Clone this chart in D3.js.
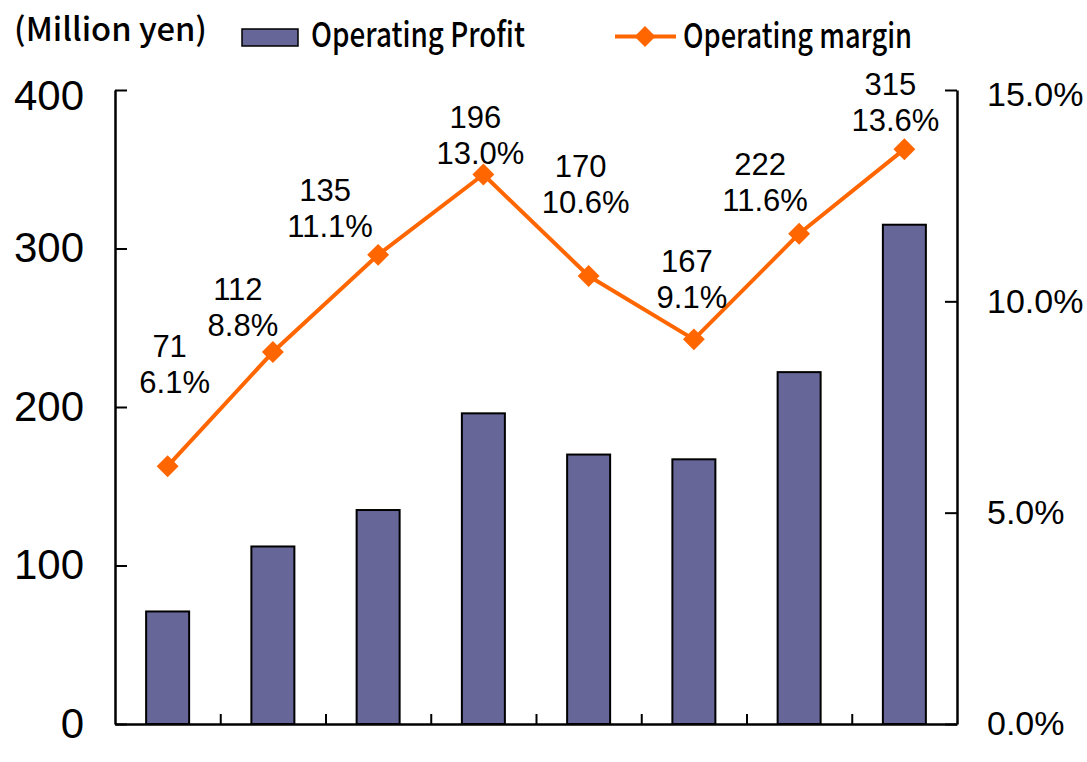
<!DOCTYPE html>
<html>
<head>
<meta charset="utf-8">
<script src="https://cdn.jsdelivr.net/npm/d3@7"></script>
<style>
  body { margin: 0; background: #fff; }
</style>
</head>
<body>
<div id="chart"></div>
<script>
// periods are not labelled on the original chart
const categories = ["P1", "P2", "P3", "P4", "P5", "P6", "P7", "P8"];
const profit = [71, 112, 135, 196, 170, 167, 222, 315];
const opMargin = [6.1, 8.8, 11.1, 13.0, 10.6, 9.1, 11.6, 13.6];
const leftTicks = [0, 100, 200, 300, 400];
const rightTicks = [0, 5, 10, 15];
const unitLabel = "(Million yen)";
const seriesNames = ["Operating Profit", "Operating margin"];

// where each two-line label sits relative to its marker (layout only)
const labelShift = [[7, -73], [-30, -16], [-48, -18], [-3, -11], [-3, -63], [-2, -31], [-34, -23], [-9, -18]];

const W = 1087, H = 762;
const margin = { top: 90, right: 130, bottom: 38, left: 115 };
const width = W - margin.left - margin.right;
const height = H - margin.top - margin.bottom;

const svg = d3.select("#chart").append("svg")
  .attr("width", W)
  .attr("height", H)
  .style("background", "#fff");

const g = svg.append("g")
  .attr("transform", `translate(${margin.left},${margin.top})`);

const x = d3.scaleBand().domain(categories).range([0, width]).padding(0);
const y = d3.scaleLinear().domain([0, 400]).range([height, 0]);
const y2 = d3.scaleLinear().domain([0, 15]).range([height, 0]);

const barW = 43;
const orange = "#ff6600";
const barFill = "#666699";

// bars
g.selectAll("rect.bar")
  .data(profit)
  .join("rect")
  .attr("class", "bar")
  .attr("x", (d, i) => x(categories[i]) + (x.bandwidth() - barW) / 2)
  .attr("y", d => y(d))
  .attr("width", barW)
  .attr("height", d => height - y(d))
  .attr("fill", barFill)
  .attr("stroke", "#000")
  .attr("stroke-width", 2);

// axes
const leftAxis = g.append("g")
  .call(d3.axisLeft(y).tickValues(leftTicks).tickSize(-12).tickSizeOuter(0).tickPadding(31));
leftAxis.selectAll("text")
  .style("font-family", "'Liberation Sans', Arial, sans-serif")
  .style("font-size", "42px")
  .attr("fill", "#000");
leftAxis.selectAll("text").filter(d => d === leftTicks[leftTicks.length - 1]).attr("y", 6);

const rightAxis = g.append("g")
  .attr("transform", `translate(${width},0)`)
  .call(d3.axisRight(y2).tickValues(rightTicks).tickSize(-12).tickSizeOuter(0).tickPadding(30)
    .tickFormat(d => d.toFixed(1) + "%"));
rightAxis.selectAll("text")
  .style("font-family", "'Liberation Sans', Arial, sans-serif")
  .style("font-size", "34px")
  .attr("fill", "#000");
rightAxis.selectAll("text").filter(d => d === rightTicks[rightTicks.length - 1]).attr("y", 5);

const xPos = d3.scaleLinear().domain([0, categories.length]).range([0, width]);
const bottomAxis = g.append("g")
  .attr("transform", `translate(0,${height})`)
  .call(d3.axisBottom(xPos).tickValues(d3.range(1, categories.length)).tickSize(-10).tickSizeOuter(0).tickFormat(""));

[leftAxis, rightAxis, bottomAxis].forEach(a => {
  a.select(".domain").attr("stroke", "#000").attr("stroke-width", 2.5);
  a.selectAll(".tick line").attr("stroke", "#000").attr("stroke-width", 2);
});

// margin line
const cx = i => x(categories[i]) + x.bandwidth() / 2;
const line = d3.line()
  .x((d, i) => cx(i))
  .y(d => y2(d));

g.append("path")
  .datum(opMargin)
  .attr("d", line)
  .attr("fill", "none")
  .attr("stroke", orange)
  .attr("stroke-width", 4)
  .attr("stroke-linejoin", "round");

const diamond = d3.symbol(d3.symbolSquare, 240);
g.selectAll("path.mark")
  .data(opMargin)
  .join("path")
  .attr("class", "mark")
  .attr("d", diamond)
  .attr("transform", (d, i) => `translate(${cx(i)},${y2(d)}) rotate(45)`)
  .attr("fill", orange);

// data labels
const labels = g.selectAll("text.lbl")
  .data(opMargin)
  .join("text")
  .attr("class", "lbl")
  .attr("text-anchor", "middle")
  .style("font-family", "'Liberation Sans', Arial, sans-serif")
  .style("font-size", "31px")
  .attr("fill", "#000");

labels.append("tspan")
  .attr("x", (d, i) => cx(i) + labelShift[i][0] - 5)
  .attr("y", (d, i) => y2(d) + labelShift[i][1] - 36)
  .text((d, i) => profit[i]);
labels.append("tspan")
  .attr("x", (d, i) => cx(i) + labelShift[i][0])
  .attr("y", (d, i) => y2(d) + labelShift[i][1])
  .text(d => d.toFixed(1) + "%");

// unit and legend
const legendFont = "'Noto Sans CJK JP', 'Noto Sans', sans-serif";
svg.append("text")
  .attr("x", 14)
  .attr("y", 41)
  .attr("textLength", 193)
  .attr("lengthAdjust", "spacingAndGlyphs")
  .style("font-family", legendFont)
  .style("font-size", "32px")
  .style("font-weight", 500)
  .text(unitLabel);

svg.append("rect")
  .attr("x", 242)
  .attr("y", 29)
  .attr("width", 56)
  .attr("height", 17)
  .attr("fill", barFill)
  .attr("stroke", "#000")
  .attr("stroke-width", 1.5);

svg.append("text")
  .attr("x", 311)
  .attr("y", 47)
  .attr("textLength", 214)
  .attr("lengthAdjust", "spacingAndGlyphs")
  .style("font-family", legendFont)
  .style("font-size", "34px")
  .style("font-weight", 500)
  .text(seriesNames[0]);

svg.append("line")
  .attr("x1", 615).attr("x2", 676)
  .attr("y1", 36.5).attr("y2", 36.5)
  .attr("stroke", orange)
  .attr("stroke-width", 4);
svg.append("path")
  .attr("d", d3.symbol(d3.symbolSquare, 220))
  .attr("transform", "translate(645,36.5) rotate(45)")
  .attr("fill", orange);

svg.append("text")
  .attr("x", 683)
  .attr("y", 48)
  .attr("textLength", 229)
  .attr("lengthAdjust", "spacingAndGlyphs")
  .style("font-family", legendFont)
  .style("font-size", "34px")
  .style("font-weight", 500)
  .text(seriesNames[1]);
</script>
</body>
</html>
